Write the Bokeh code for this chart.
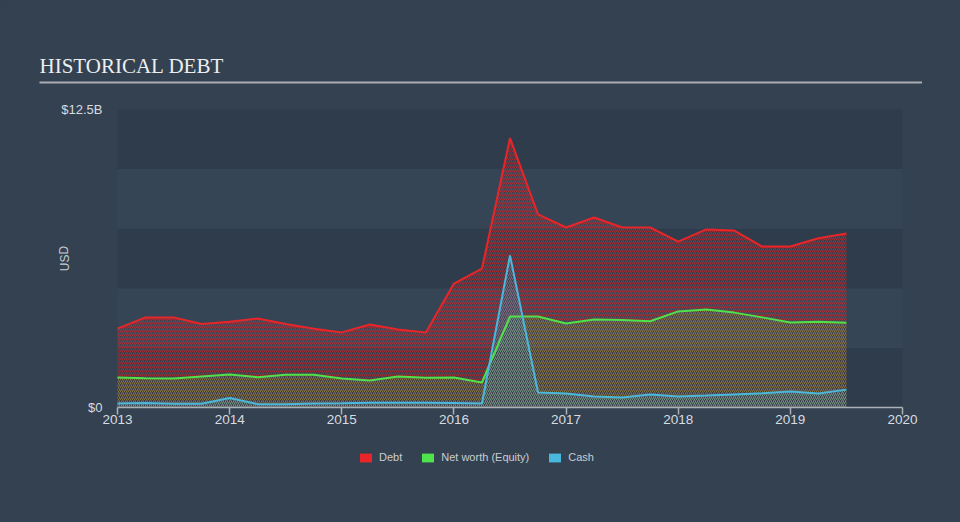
from bokeh.plotting import figure
from bokeh.models import (FixedTicker, Label, BoxAnnotation, Legend, LegendItem,
                          CustomJSTickFormatter, LinearAxis, Range1d)
from bokeh.embed import file_html
from bokeh.resources import INLINE

# ---- data (USD billions, quarterly) ----
quarters = [2013.0, 2013.25, 2013.5, 2013.75, 2014.0, 2014.25, 2014.5, 2014.75,
            2015.0, 2015.25, 2015.5, 2015.75, 2016.0, 2016.25, 2016.5, 2016.75,
            2017.0, 2017.25, 2017.5, 2017.75, 2018.0, 2018.25, 2018.5, 2018.75,
            2019.0, 2019.25, 2019.5]
debt = [3.31, 3.78, 3.78, 3.50, 3.60, 3.73, 3.50, 3.30,
        3.15, 3.48, 3.27, 3.15, 5.20, 5.83, 11.30, 8.10,
        7.55, 7.97, 7.55, 7.55, 6.96, 7.47, 7.42, 6.75,
        6.75, 7.10, 7.30]
equity = [1.26, 1.23, 1.22, 1.30, 1.38, 1.27, 1.37, 1.37,
          1.22, 1.13, 1.30, 1.25, 1.26, 1.05, 3.82, 3.82,
          3.52, 3.69, 3.67, 3.62, 4.03, 4.11, 3.98, 3.78,
          3.57, 3.60, 3.55]
cash = [0.17, 0.19, 0.16, 0.16, 0.40, 0.14, 0.14, 0.17,
        0.18, 0.20, 0.20, 0.20, 0.19, 0.17, 6.38, 0.63,
        0.59, 0.46, 0.42, 0.55, 0.46, 0.50, 0.55, 0.60,
        0.67, 0.59, 0.75]
year_ticks = [2013, 2014, 2015, 2016, 2017, 2018, 2019, 2020]
y_ticks = [0, 12.5]
band_edges = [0, 2.5, 5, 7.5, 10, 12.5]
series_names = ["Debt", "Net worth (Equity)", "Cash"]

DEBT = "#e8262a"
EQUITY = "#4fe24a"
CASH = "#4ab8dc"
BG = "#334150"
TXT = "#d8dce0"

# ---- layout geometry (pixels) ----
W, H = 960, 522
X0_PX, X1_PX = 117, 902      # 2013 .. 2020
Y0_PX, Y1_PX = 407, 109      # 0 .. 12.5
XMIN, XMAX = year_ticks[0], year_ticks[-1]
YMIN, YMAX = y_ticks[0], y_ticks[-1]
sx = (X1_PX - X0_PX) / (XMAX - XMIN)
sy = (Y0_PX - Y1_PX) / (YMAX - YMIN)
x_range = Range1d(XMIN - X0_PX / sx, XMAX + (W - X1_PX) / sx)
y_range = Range1d(YMIN - (H - Y0_PX) / sy, YMAX + Y1_PX / sy)


def dx(px):
    return XMIN + (px - X0_PX) / sx


def dy(py):
    return YMIN + (Y0_PX - py) / sy


p = figure(width=W, height=H, x_range=x_range, y_range=y_range,
           output_backend="svg", toolbar_location=None, title=None,
           x_axis_location=None, y_axis_location=None, min_border=0,
           styles={"background-color": BG})
p.border_fill_color = BG
p.background_fill_color = BG
p.outline_line_color = None
p.outline_line_alpha = 0
p.grid.visible = False

# plot bands
band_colors = ["#2f3c4b" if i % 2 == 0 else "#364555" for i in range(len(band_edges) - 1)]
p.quad(left=XMIN, right=XMAX, bottom=band_edges[:-1], top=band_edges[1:],
       fill_color=band_colors, line_color=None, level="underlay")

# x axis
xa = LinearAxis(fixed_location=YMIN, bounds=(XMIN, XMAX))
xa.ticker = FixedTicker(ticks=year_ticks)
xa.axis_line_color = "#aab1b8"
xa.axis_line_width = 1.5
xa.major_tick_line_color = "#aab1b8"
xa.major_tick_line_width = 1.5
xa.major_tick_out = 7
xa.major_tick_in = 0
xa.minor_tick_line_color = None
xa.major_label_standoff = 0
xa.major_label_text_color = TXT
xa.major_label_text_font = "Liberation Sans"
xa.major_label_text_font_size = "13.5px"
p.add_layout(xa, "below")

# y axis
ya = LinearAxis(fixed_location=XMIN, bounds=(YMIN, YMAX))
ya.ticker = FixedTicker(ticks=y_ticks)
ya.formatter = CustomJSTickFormatter(code="return tick == 0 ? '$0' : '$' + tick + 'B';")
ya.axis_line_color = None
ya.major_tick_line_color = None
ya.minor_tick_line_color = None
ya.major_tick_out = 0
ya.major_tick_in = 0
ya.major_label_standoff = 15
ya.major_label_text_color = TXT
ya.major_label_text_font = "Liberation Sans"
ya.major_label_text_font_size = "13px"
p.add_layout(ya, "left")

# areas
hatch = dict(hatch_pattern="/", hatch_scale=4, hatch_weight=1)
p.varea(x=quarters, y1=0, y2=debt, fill_color=DEBT, fill_alpha=0.06,
        hatch_color=DEBT, hatch_alpha=0.6, **hatch)
p.varea(x=quarters, y1=0, y2=equity, fill_color=EQUITY, fill_alpha=0.0,
        hatch_color=EQUITY, hatch_alpha=0.4, **hatch)
p.varea(x=quarters, y1=0, y2=cash, fill_color=CASH, fill_alpha=0.05,
        hatch_color=CASH, hatch_alpha=0.4, **hatch)

p.line(quarters, debt, line_color=DEBT, line_width=2)
p.line(quarters, equity, line_color=EQUITY, line_width=2)
p.line(quarters, cash, line_color=CASH, line_width=2)

# legend (solid swatches from zero-size quads)
swatches = []
for col in (DEBT, EQUITY, CASH):
    swatches.append(p.quad(left=[XMIN], right=[XMIN], top=[YMIN], bottom=[YMIN],
                           fill_color=col, line_color=None))
legend = Legend(items=[LegendItem(label=n, renderers=[r]) for n, r in zip(series_names, swatches)],
                orientation="horizontal", location=(358, H - 463),
                padding=0, spacing=18, label_standoff=6,
                glyph_width=15, glyph_height=11, label_height=11,
                border_line_color=None, background_fill_alpha=0,
                label_text_color="#c8cdd2", label_text_font="Liberation Sans",
                label_text_font_size="11px")
p.add_layout(legend)

# title, rule, axis label
p.add_layout(Label(x=dx(39), y=dy(65.5), text="HISTORICAL DEBT",
                   text_font="Liberation Serif", text_font_size="21px",
                   text_color="#eceef0", text_baseline="alphabetic",
                   text_align="left"))
p.add_layout(BoxAnnotation(left=dx(39), right=dx(921.5), top=dy(81), bottom=dy(83),
                           fill_color="#a9adb1", fill_alpha=1.0, line_color=None))
p.add_layout(Label(x=dx(64), y=dy(258), text="USD", angle=1.5708,
                   text_font="Liberation Sans", text_font_size="12px",
                   text_color="#c8cdd2", text_align="center",
                   text_baseline="middle"))

open("out.html", "w").write(file_html(p, INLINE))
